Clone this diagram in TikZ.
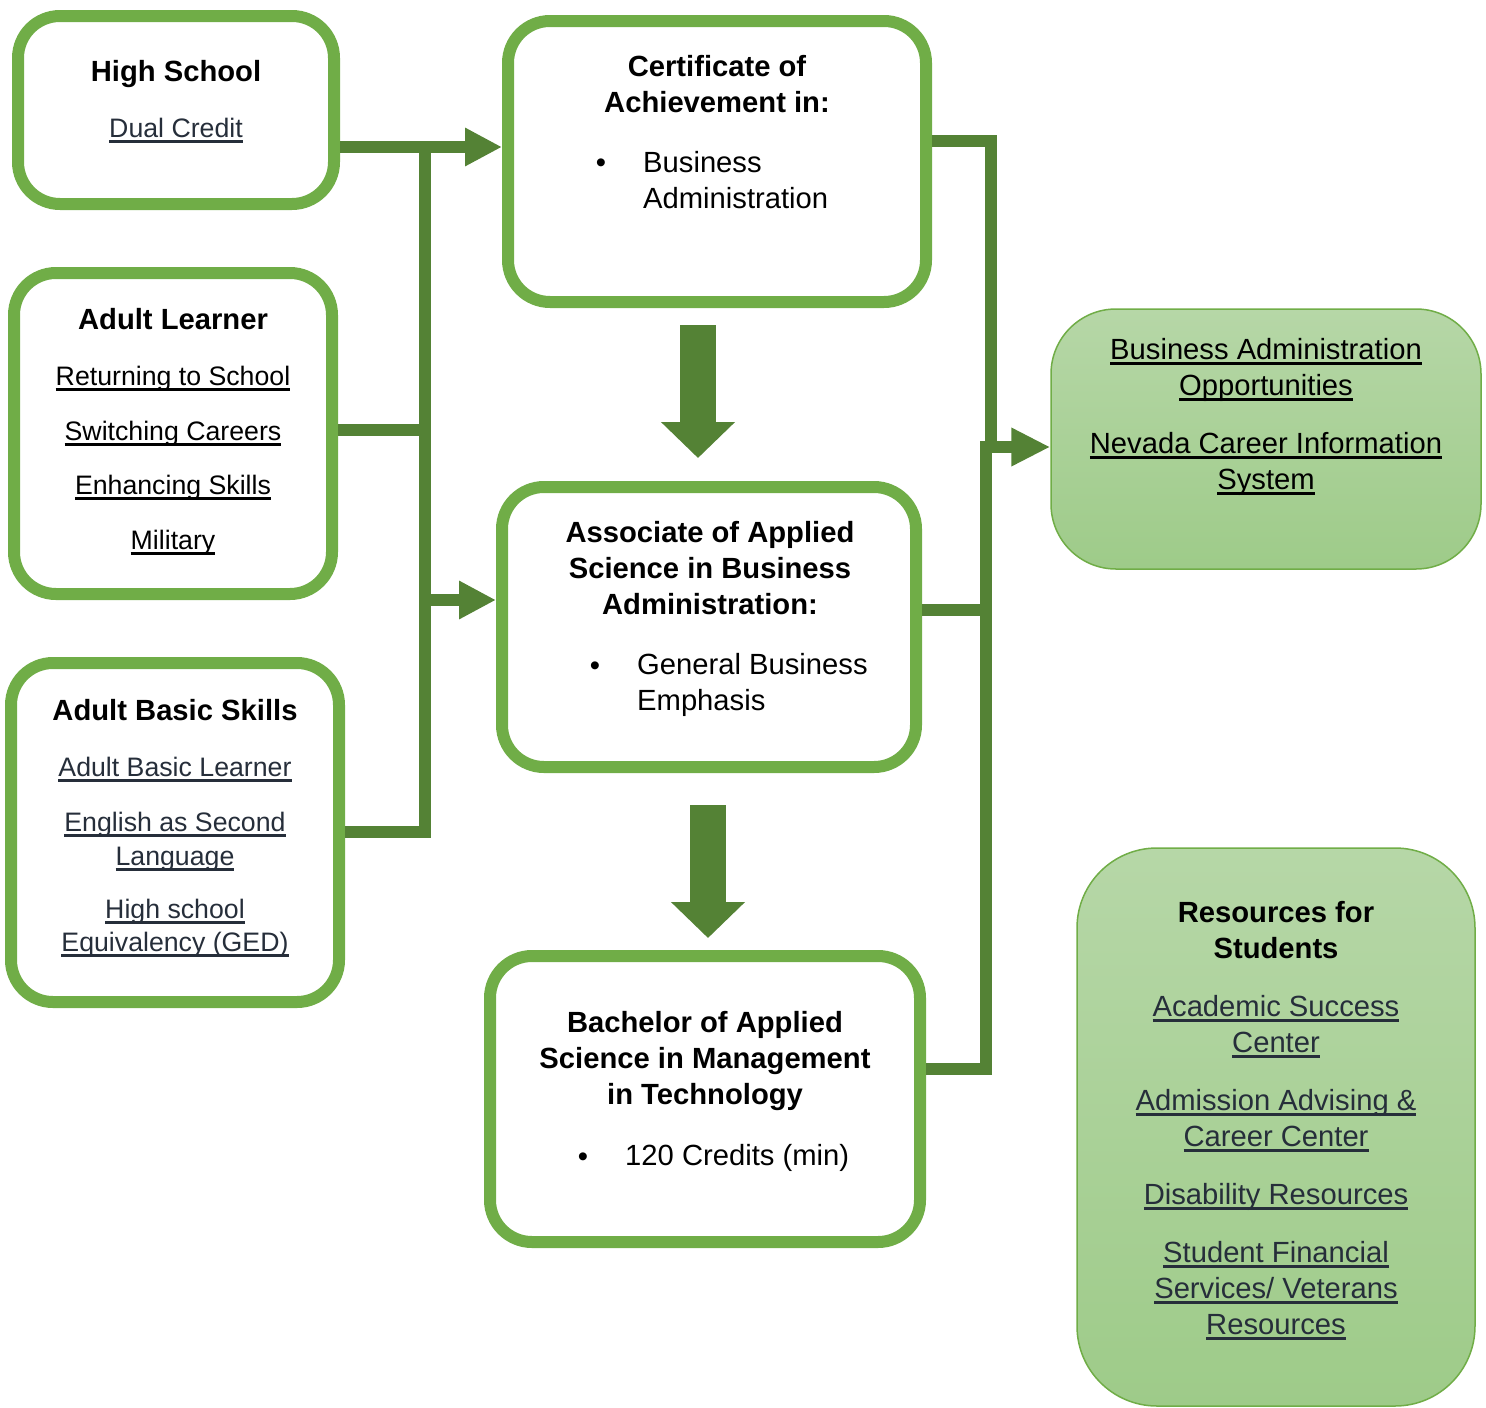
\documentclass[tikz,border=0pt]{standalone}
\usepackage{fontspec}
\setmainfont{Liberation Sans}
\usetikzlibrary{arrows.meta,calc}

\definecolor{boxgreen}{HTML}{70AD47}
\definecolor{linegreen}{HTML}{548235}
\definecolor{slate}{RGB}{38,46,58}
\definecolor{fillTop}{RGB}{182,215,167}
\definecolor{fillBot}{RGB}{158,203,137}
\newsavebox{\lnkbox}
\newcommand{\lnk}[1]{\sbox{\lnkbox}{#1}\rlap{\rule[-5.5pt]{\wd\lnkbox}{2.6pt}}\usebox{\lnkbox}}

\tikzset{
  pathbox/.style={rectangle, draw=boxgreen, line width=12pt, rounded corners=42pt},
  infobox/.style={rectangle, draw=boxgreen, line width=1.5pt, top color=fillTop, bottom color=fillBot},
  conn/.style={draw=linegreen, line width=12pt},
  tip/.style={-{Triangle[length=37pt,width=36pt]}},
  bigdown/.style={draw=linegreen, line width=36pt, -{Triangle[length=36pt,width=72pt]}},
  txt/.style={align=center, anchor=base, inner sep=0pt, font=\fontsize{29.2}{36}\selectfont},
  small/.style={txt, font=\fontsize{26.7}{33}\selectfont},
  hdr/.style={txt, font=\fontsize{29.2}{36}\selectfont\bfseries},
  item/.style={align=left, anchor=base west, inner sep=0pt, font=\fontsize{29.2}{36}\selectfont},
}

\begin{document}
\begin{tikzpicture}[x=1pt,y=-1pt]
  \useasboundingbox (0,0) rectangle (1486,1408);

  % boxes
  \node[pathbox, minimum width=316pt, minimum height=188pt] (hs) at (176,110) {};
  \node[pathbox, minimum width=418pt, minimum height=281pt] (cert) at (717,161.5) {};
  \node[pathbox, minimum width=318pt, minimum height=321pt] (al) at (173,433.5) {};
  \node[pathbox, minimum width=414pt, minimum height=280pt] (aas) at (709,627) {};
  \node[pathbox, minimum width=328pt, minimum height=339pt] (abs) at (175,832.5) {};
  \node[pathbox, minimum width=430pt, minimum height=286pt] (bas) at (705,1099) {};
  \node[infobox, rounded corners=65pt, minimum width=430pt, minimum height=260pt] (opp) at (1266,439) {};
  \node[infobox, rounded corners=80pt, minimum width=398pt, minimum height=558pt] (res) at (1276,1127) {};

  % left trunk
  \coordinate (j1) at (425,147);
  \coordinate (j2) at (425,430);
  \coordinate (j4) at (425,600);
  \coordinate (j3) at (425,832);
  \draw[conn, tip] (hs.east |- j1) -- (cert.west |- j1);
  \draw[conn] (j1) -- (j3) -- (abs.east |- j3);
  \draw[conn] (al.east |- j2) -- (j2);
  \draw[conn, tip] (j4) -- (aas.west |- j4);

  % right trunk
  \coordinate (r1) at (991,141);
  \coordinate (r1e) at (991,453);
  \coordinate (r2) at (986,447);
  \coordinate (r3) at (986,610);
  \coordinate (r4) at (986,1069);
  \draw[conn] (cert.east |- r1) -- (r1) -- (r1e);
  \draw[conn, {Triangle[length=39pt,width=36pt]}-] (opp.west |- r2) -- (r2) -- (r4) -- (bas.east |- r4);
  \draw[conn] (aas.east |- r3) -- (r3);

  % block arrows down
  \draw[bigdown] ($(cert.south)+(-19,17)$) -- ($(aas.north)+(-11,-23)$);
  \draw[bigdown] ($(aas.south)+(-1,32)$) -- ($(bas.north)+(3,-12)$);

  % texts (multi-line nodes sit on their last baseline)
  \node[hdr] (hsT) at (176,81) {High School};
  \node[small, text=slate] (hsL) at (176,137) {\lnk{Dual Credit}};

  \node[hdr] (certT) at (717,112) {Certificate of\\Achievement in:};
  \node[txt] (certB) at (601,172) {\textbullet};
  \node[item] (certI) at (643,208) {Business\\Administration};

  \node[hdr] (alT) at (173,329) {Adult Learner};
  \node[small] (alL1) at (173,385) {\lnk{Returning to School}};
  \node[small] (alL2) at (173,440) {\lnk{Switching Careers}};
  \node[small] (alL3) at (173,494) {\lnk{Enhancing Skills}};
  \node[small] (alL4) at (173,549) {\lnk{Military}};

  \node[hdr] (aasT) at (710,614) {Associate of Applied\\Science in Business\\Administration:};
  \node[txt] (aasB) at (595,675) {\textbullet};
  \node[item] (aasI) at (637,710) {General Business\\Emphasis};

  \node[hdr] (absT) at (175,720) {Adult Basic Skills};
  \node[small, text=slate] (absL1) at (175,776) {\lnk{Adult Basic Learner}};
  \node[small, text=slate] (absL2) at (175,865) {\lnk{English as Second}\\[1pt]\lnk{Language}};
  \node[small, text=slate] (absL3) at (175,951) {\lnk{High school}\\\lnk{Equivalency (GED)}};

  \node[hdr] (basT) at (705,1104) {Bachelor of Applied\\Science in Management\\in Technology};
  \node[txt] (basB) at (583,1166) {\textbullet};
  \node[item] (basI) at (625,1165) {120 Credits (min)};

  \node[txt] (oppL1) at (1266,395) {\lnk{Business Administration}\\\lnk{Opportunities}};
  \node[txt] (oppL2) at (1266,489) {\lnk{Nevada Career Information}\\\lnk{System}};

  \node[hdr] (resT) at (1276,958) {Resources for\\Students};
  \node[txt, text=slate] (resL1) at (1276,1052) {\lnk{Academic Success}\\\lnk{Center}};
  \node[txt, text=slate] (resL2) at (1276,1146) {\lnk{Admission Advising \&}\\\lnk{Career Center}};
  \node[txt, text=slate] (resL3) at (1276,1204) {\lnk{Disability Resources}};
  \node[txt, text=slate] (resL4) at (1276,1334) {\lnk{Student Financial}\\\lnk{Services/ Veterans}\\\lnk{Resources}};
\end{tikzpicture}
\end{document}
